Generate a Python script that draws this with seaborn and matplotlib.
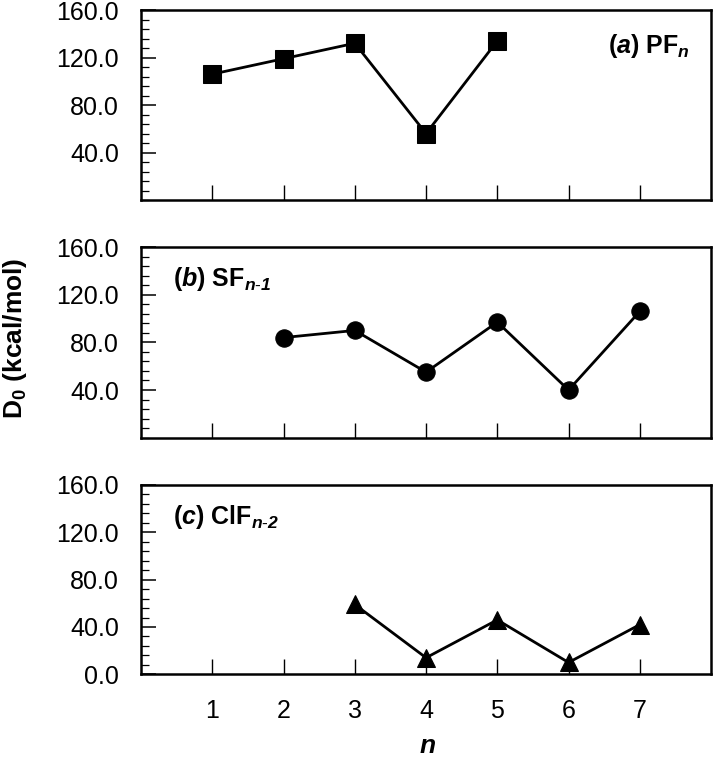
import matplotlib
matplotlib.use("Agg")
import matplotlib.pyplot as plt
from matplotlib.ticker import MultipleLocator, FormatStrFormatter, FixedLocator
import seaborn as sns
import pandas as pd

sns.set_theme(style="white")
plt.rcParams['font.family'] = ['Liberation Sans', 'DejaVu Sans']
plt.rcParams['mathtext.fontset'] = 'custom'
plt.rcParams['mathtext.rm'] = 'Liberation Sans'
plt.rcParams['mathtext.bf'] = 'Liberation Sans:bold'
plt.rcParams['mathtext.it'] = 'Liberation Sans:italic'
plt.rcParams['mathtext.bfit'] = 'Liberation Sans:bold:italic'
plt.rcParams['text.color'] = 'black'
plt.rcParams['xtick.color'] = 'black'
plt.rcParams['ytick.color'] = 'black'

# Data
n_pf = [1, 2, 3, 4, 5]
d0_pf = [106, 119, 132, 56, 134]
n_sf = [2, 3, 4, 5, 6, 7]
d0_sf = [84, 90, 55, 97, 40, 106]
n_clf = [3, 4, 5, 6, 7]
d0_clf = [59, 14, 46, 10, 42]

x_ticks = [1, 2, 3, 4, 5, 6, 7]

panels = [
    (n_pf, d0_pf, 's', r"$\mathbf{(}\mathbfit{a}\mathbf{)\ PF}_{\mathbfit{n}}$", (0.1978, 0.7361, 0.7995, 0.2507), 'right'),
    (n_sf, d0_sf, 'o', r"$\mathbf{(}\mathbfit{b}\mathbf{)\ SF}_{\mathbfit{n\text{-}1}}$", (0.1978, 0.4226, 0.7995, 0.2515), 'left'),
    (n_clf, d0_clf, '^', r"$\mathbf{(}\mathbfit{c}\mathbf{)\ ClF}_{\mathbfit{n\text{-}2}}$", (0.1978, 0.1104, 0.7995, 0.2498), 'left'),
]

fig = plt.figure(figsize=(7.13, 7.58), dpi=100)

for i, (xs, ys, mk, label, rect, side) in enumerate(panels):
    ax = fig.add_axes(rect)
    df = pd.DataFrame({'n': xs, 'D0': ys})
    sns.lineplot(data=df, x='n', y='D0', ax=ax, color='black', marker=mk,
                 markersize=12.5 if mk != '^' else 13.5, markeredgecolor='black',
                 markerfacecolor='black', linewidth=2.0)
    ax.set_xlim(0, 8)
    ax.set_ylim(0, 160)
    ax.set_xlabel('')
    ax.set_ylabel('')
    ax.xaxis.set_major_locator(FixedLocator(x_ticks))
    if i == 2:
        ax.yaxis.set_major_locator(FixedLocator([0, 40, 80, 120, 160]))
        ax.set_xticklabels([str(t) for t in x_ticks])
    else:
        ax.yaxis.set_major_locator(FixedLocator([40, 80, 120, 160]))
        ax.set_xticklabels([])
    ax.yaxis.set_minor_locator(MultipleLocator(8))
    ax.yaxis.set_major_formatter(FormatStrFormatter('%.1f'))
    ax.tick_params(axis='y', which='major', direction='in', length=11, width=1.1,
                   labelsize=18, pad=16, left=True, right=False, colors='black')
    ax.tick_params(axis='y', which='minor', direction='in', length=5.5, width=0.9,
                   left=True, right=False, colors='black')
    ax.tick_params(axis='x', which='major', direction='in', length=11, width=1.0,
                   labelsize=18, pad=18, bottom=True, top=False, colors='black')
    for sp in ax.spines.values():
        sp.set_linewidth(1.8)
        sp.set_color('black')
    if side == 'right':
        ax.text(6.55, 130, label, fontsize=18, ha='left', va='center')
    else:
        ax.text(0.45, 133, label, fontsize=18, ha='left', va='center')

fig.text(0.021, 0.554, r"$\mathbf{D}_{\mathbf{0}}\ \mathbf{(kcal/mol)}$", rotation=90,
         fontsize=19, ha='center', va='center')
fig.text(0.599, 0.016, r"$\mathbfit{n}$", fontsize=19, ha='center', va='center')

fig.savefig('out.png', dpi=100)
